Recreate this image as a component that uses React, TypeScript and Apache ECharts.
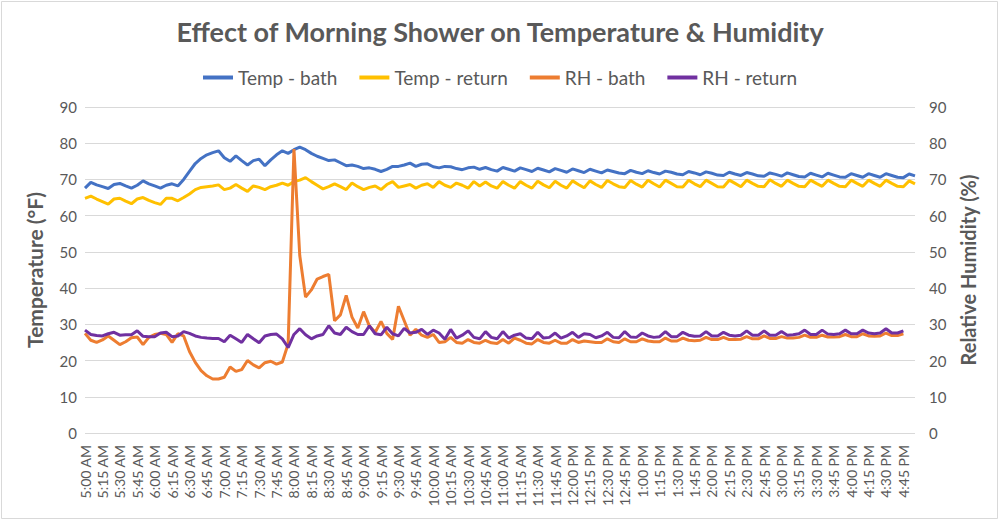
import React, { useEffect, useRef } from "react";
import * as echarts from "echarts";

// Readings every 5 minutes from 5:00 AM
const START_MINUTE = 5 * 60;
const STEP_MINUTES = 5;
const POINT_COUNT = 144;

const tempBath = [
  67.6, 69.2, 68.5, 68.0, 67.5, 68.6, 68.9, 68.2, 67.6, 68.4,
  69.6, 68.8, 68.2, 67.6, 68.4, 68.8, 68.2, 70.0, 72.2, 74.4,
  75.8, 76.8, 77.4, 77.9, 76.0, 75.0, 76.5, 75.2, 74.0, 75.2,
  75.6, 73.8, 75.4, 76.8, 77.9, 77.2, 78.2, 78.9, 78.2, 77.2,
  76.4, 75.8, 75.2, 75.4, 74.6, 73.8, 74.0, 73.6, 73.0, 73.2,
  72.8, 72.2, 72.8, 73.6, 73.6, 74.0, 74.5, 73.6, 74.2, 74.3,
  73.5, 73.2, 73.6, 73.5, 73.0, 72.7, 73.2, 73.4, 72.8, 73.3,
  72.7, 72.3, 73.3, 72.8, 72.3, 73.2, 72.7, 72.2, 73.1, 72.6,
  72.1, 73.0, 72.5, 72.0, 72.9, 72.4, 71.9, 72.8, 72.3, 71.8,
  72.6, 72.2, 71.8, 71.6, 72.5, 72.0, 71.6, 72.4, 71.9, 71.5,
  72.3, 72.0, 71.5, 71.3, 72.2, 71.8, 71.3, 72.1, 71.7, 71.2,
  71.1, 72.0, 71.5, 71.1, 71.9, 71.5, 71.0, 70.9, 71.8, 71.4,
  70.9, 71.8, 71.3, 70.8, 70.7, 71.7, 71.2, 70.7, 71.7, 71.2,
  70.7, 70.6, 71.6, 71.1, 70.6, 71.6, 71.1, 70.6, 71.6, 71.1,
  70.6, 70.5, 71.5, 71.0,
];

const tempReturn = [
  64.8, 65.4, 64.6, 63.9, 63.2, 64.6, 64.8, 64.0, 63.3, 64.6,
  65.0, 64.2, 63.6, 63.1, 64.8, 64.8, 64.1, 65.0, 66.0, 67.2,
  67.8, 68.0, 68.2, 68.5, 67.2, 67.6, 68.6, 67.6, 66.7, 68.2,
  67.8, 67.2, 68.0, 68.4, 69.0, 68.4, 69.4, 69.8, 70.5, 69.4,
  68.4, 67.4, 68.0, 68.8, 68.0, 67.2, 69.0, 68.0, 67.2, 67.8,
  68.2, 67.2, 68.6, 69.4, 67.8, 68.2, 68.6, 67.6, 68.4, 68.8,
  67.8, 69.4, 68.4, 67.8, 69.0, 68.4, 67.6, 69.4, 68.2, 69.3,
  68.2, 67.6, 69.4, 68.4, 67.6, 69.4, 68.4, 67.6, 69.5, 68.5,
  67.7, 69.5, 68.4, 67.6, 69.6, 68.6, 67.7, 69.6, 68.6, 67.8,
  69.7, 68.8, 68.0, 67.8, 69.7, 68.7, 67.9, 69.8, 68.8, 67.9,
  69.8, 68.9, 68.0, 67.9, 69.8, 68.8, 68.0, 69.8, 68.9, 68.0,
  67.9, 69.8, 68.9, 68.0, 69.8, 68.9, 68.1, 68.0, 69.9, 68.9,
  68.1, 69.8, 68.9, 68.1, 68.0, 69.8, 68.9, 68.1, 69.8, 68.9,
  68.1, 68.0, 69.8, 68.9, 68.1, 69.8, 68.9, 68.1, 69.8, 68.9,
  68.1, 68.0, 69.6, 68.8,
];

const rhBath = [
  27.5, 25.6, 25.0, 25.7, 26.8, 25.6, 24.4, 25.2, 26.3, 26.5,
  24.4, 26.4, 27.2, 27.5, 27.2, 25.0, 27.4, 26.8, 22.5, 19.5,
  17.2, 15.8, 14.9, 14.9, 15.4, 18.2, 17.0, 17.5, 20.0, 18.8,
  18.0, 19.4, 19.8, 19.0, 19.6, 24.6, 78.4, 49.0, 37.5, 39.5,
  42.5, 43.2, 43.8, 31.0, 32.6, 38.0, 32.0, 29.0, 33.5, 29.5,
  27.8, 30.8, 27.5, 25.8, 35.0, 31.0, 27.0, 28.6, 27.0, 26.4,
  27.2, 25.0, 25.2, 26.4, 25.0, 24.8, 25.8, 25.0, 24.8, 25.6,
  24.9, 24.7, 25.8, 24.8, 26.2, 25.6, 24.8, 24.6, 25.8, 25.0,
  24.8, 25.6, 24.8, 24.8, 25.8, 25.0, 25.4, 25.2, 25.0, 25.0,
  26.0, 25.2, 25.0, 26.0, 25.2, 25.2, 26.0, 25.4, 25.2, 25.2,
  26.2, 25.4, 25.4, 26.2, 25.6, 25.5, 25.6, 26.4, 25.8, 25.8,
  26.4, 25.8, 25.8, 25.9, 26.6, 26.0, 26.0, 26.8, 26.1, 26.1,
  26.6, 26.2, 26.2, 26.4, 27.0, 26.4, 26.4, 27.0, 26.5, 26.5,
  26.6, 27.2, 26.6, 26.6, 27.4, 26.8, 26.7, 26.8, 27.6, 26.9,
  26.9, 27.4,
];

const rhReturn = [
  28.4, 27.2, 26.9, 26.8, 27.4, 27.8, 27.0, 27.1, 27.1, 28.2,
  26.7, 26.6, 26.6, 27.6, 27.8, 26.6, 26.8, 28.0, 27.5, 26.8,
  26.4, 26.2, 26.1, 26.1, 25.2, 27.0, 26.0, 25.0, 27.2, 26.0,
  24.9, 26.8, 27.2, 27.3, 26.0, 23.6, 27.2, 28.8, 27.1, 26.0,
  26.8, 27.2, 29.6, 27.6, 27.2, 29.2, 28.0, 27.2, 27.2, 29.6,
  27.4, 27.1, 29.2, 27.4, 26.8, 28.9, 27.6, 27.8, 28.6, 27.2,
  28.4, 27.6, 25.9, 28.6, 26.2, 27.0, 28.2, 26.4, 26.0, 28.0,
  26.4, 26.0, 28.0, 26.2, 27.0, 27.4, 26.2, 26.0, 27.8, 26.2,
  26.4, 27.6, 26.2, 26.8, 27.8, 26.4, 27.4, 27.2, 26.3, 26.8,
  27.8, 26.4, 26.3, 28.0, 26.5, 26.4, 27.6, 26.8, 26.4, 26.6,
  28.0, 26.6, 26.6, 27.8, 27.0, 26.7, 26.8, 28.0, 26.8, 26.8,
  27.8, 27.0, 26.8, 27.0, 28.2, 27.0, 27.0, 28.2, 27.0, 27.0,
  28.0, 27.0, 27.1, 27.4, 28.4, 27.2, 27.2, 28.4, 27.3, 27.2,
  27.4, 28.4, 27.4, 27.4, 28.4, 27.6, 27.4, 27.6, 28.8, 27.6,
  27.6, 28.2,
];

const AXIS_MIN = 0;
const AXIS_MAX = 90;
const AXIS_INTERVAL = 10;

function timeLabel(totalMinutes: number): string {
  const h = Math.floor(totalMinutes / 60);
  const m = totalMinutes % 60;
  const h12 = h % 12 === 0 ? 12 : h % 12;
  const ampm = h < 12 ? "AM" : "PM";
  return `${h12}:${m < 10 ? "0" + m : m} ${ampm}`;
}

const categories: string[] = [];
for (let i = 0; i < POINT_COUNT; i++) categories.push(timeLabel(START_MINUTE + i * STEP_MINUTES));

const FONT = "Lato, 'Open Sans', sans-serif";
const TEXT = "#595959";

export default function App() {
  const ref = useRef<HTMLDivElement>(null);
  useEffect(() => {
    if (!ref.current) return;
    const chart = echarts.init(ref.current, null, { renderer: "svg" });
    chart.setOption({
      animation: false,
      backgroundColor: "#ffffff",
      textStyle: { fontFamily: FONT },
      title: {
        text: "Effect of Morning Shower on Temperature & Humidity",
        left: "center",
        top: 13,
        textStyle: { fontFamily: FONT, fontSize: 27, fontWeight: "bold", color: TEXT },
      },
      legend: {
        top: 63,
        left: "center",
        icon: "rect",
        itemWidth: 30,
        itemHeight: 4,
        itemGap: 22,
        textStyle: { fontFamily: FONT, fontSize: 19, color: TEXT },
        data: ["Temp - bath", "Temp - return", "RH - bath", "RH - return"],
      },
      graphic: [
        {
          type: "rect",
          shape: { x: 1.5, y: 1.5, width: 996, height: 517 },
          style: { fill: "none", stroke: "#d9d9d9", lineWidth: 1 },
          silent: true,
        },
      ],
      grid: { left: 85, right: 85, top: 107, bottom: 89, containLabel: false },
      xAxis: {
        type: "category",
        data: categories,
        boundaryGap: false,
        axisLine: { show: false },
        axisTick: { show: false },
        axisLabel: {
          interval: 2,
          rotate: 90,
          margin: 12,
          fontFamily: FONT,
          fontSize: 14,
          color: TEXT,
        },
      },
      yAxis: [
        {
          type: "value",
          min: AXIS_MIN,
          max: AXIS_MAX,
          interval: AXIS_INTERVAL,
          name: "Temperature (°F)",
          nameLocation: "middle",
          nameRotate: 90,
          nameGap: 40,
          nameTextStyle: { fontFamily: FONT, fontSize: 21, fontWeight: "bold", color: TEXT },
          axisLine: { show: false },
          axisTick: { show: false },
          axisLabel: { fontFamily: FONT, fontSize: 15, color: TEXT, margin: 8 },
          splitLine: { lineStyle: { color: "#d9d9d9", width: 1 } },
        },
        {
          type: "value",
          min: AXIS_MIN,
          max: AXIS_MAX,
          interval: AXIS_INTERVAL,
          name: "Relative Humidity (%)",
          nameLocation: "middle",
          nameRotate: 90,
          nameGap: 43,
          nameTextStyle: { fontFamily: FONT, fontSize: 20, fontWeight: "bold", color: TEXT },
          axisLine: { show: false },
          axisTick: { show: false },
          axisLabel: { fontFamily: FONT, fontSize: 15, color: TEXT, margin: 14 },
          splitLine: { show: false },
        },
      ],
      series: [
        {
          name: "Temp - bath",
          type: "line",
          data: tempBath,
          yAxisIndex: 0,
          symbol: "none",
          color: "#4472C4",
          lineStyle: { width: 3, color: "#4472C4" },
        },
        {
          name: "Temp - return",
          type: "line",
          data: tempReturn,
          yAxisIndex: 0,
          symbol: "none",
          color: "#FFC000",
          lineStyle: { width: 3, color: "#FFC000" },
        },
        {
          name: "RH - bath",
          type: "line",
          data: rhBath,
          yAxisIndex: 1,
          symbol: "none",
          color: "#ED7D31",
          lineStyle: { width: 3, color: "#ED7D31" },
        },
        {
          name: "RH - return",
          type: "line",
          data: rhReturn,
          yAxisIndex: 1,
          symbol: "none",
          color: "#7030A0",
          lineStyle: { width: 3, color: "#7030A0" },
        },
      ],
    });
    return () => chart.dispose();
  }, []);
  return (
    <div
      ref={ref}
      style={{ position: "absolute", left: 0, top: 0, width: 1000, height: 522 }}
    />
  );
}
